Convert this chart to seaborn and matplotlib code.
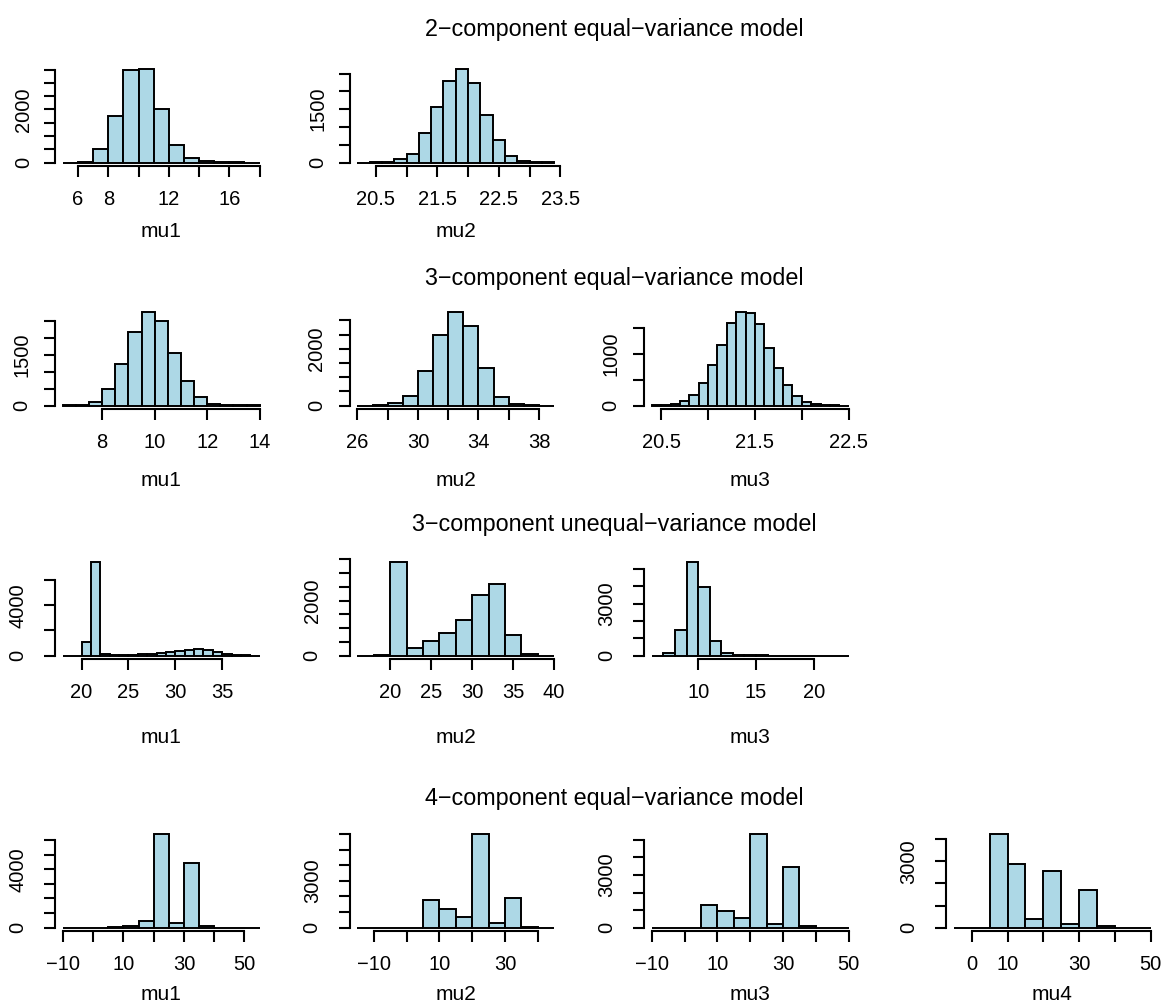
import numpy as np
import pandas as pd
import matplotlib
matplotlib.use("Agg")
import matplotlib.pyplot as plt
import seaborn as sns

# ---- 2-component equal-variance model
eq2_mu1_bins = [5, 18, 1]
eq2_mu1_counts = [5, 40, 510, 1760, 3500, 3510, 2000, 650, 175, 60, 20, 10, 5]
eq2_mu1_xticks = [6, 8, 10, 12, 14, 16, 18]
eq2_mu1_xlabels = ["6", "8", "", "12", "", "16", ""]
eq2_mu1_yticks = [0, 500, 1000, 1500, 2000, 2500, 3000, 3500]
eq2_mu1_ylabeled = [0, 2000]

eq2_mu2_bins = [20.2, 23.4, 0.2]
eq2_mu2_counts = [3, 5, 15, 100, 250, 820, 1550, 2290, 2620, 2245, 1330, 625, 190, 55, 15, 5]
eq2_mu2_xticks = [20.5, 21.0, 21.5, 22.0, 22.5, 23.0, 23.5]
eq2_mu2_xlabels = ["20.5", "", "21.5", "", "22.5", "", "23.5"]
eq2_mu2_yticks = [0, 500, 1000, 1500, 2000, 2500]
eq2_mu2_ylabeled = [0, 1500]

# ---- 3-component equal-variance model
eq3_mu1_bins = [6.5, 14, 0.5]
eq3_mu1_counts = [10, 30, 120, 490, 1230, 2175, 2745, 2490, 1555, 740, 245, 60, 25, 10, 5]
eq3_mu1_xticks = [8, 10, 12, 14]
eq3_mu1_xlabels = ["8", "10", "12", "14"]
eq3_mu1_yticks = [0, 500, 1000, 1500, 2000, 2500]
eq3_mu1_ylabeled = [0, 1500]

eq3_mu2_bins = [26, 39, 1]
eq3_mu2_counts = [5, 15, 80, 355, 1235, 2495, 3280, 2810, 1317, 318, 60, 15, 5]
eq3_mu2_xticks = [26, 28, 30, 32, 34, 36, 38]
eq3_mu2_xlabels = ["26", "", "30", "", "34", "", "38"]
eq3_mu2_yticks = [0, 500, 1000, 1500, 2000, 2500, 3000]
eq3_mu2_ylabeled = [0, 2000]

eq3_mu3_bins = [20.4, 22.5, 0.1]
eq3_mu3_counts = [5, 13, 40, 97, 207, 440, 790, 1165, 1605, 1805, 1792, 1572,
                  1106, 725, 395, 194, 78, 32, 13, 5, 2]
eq3_mu3_xticks = [20.5, 21.0, 21.5, 22.0, 22.5]
eq3_mu3_xlabels = ["20.5", "", "21.5", "", "22.5"]
eq3_mu3_yticks = [0, 500, 1000, 1500]
eq3_mu3_ylabeled = [0, 1000]

# ---- 3-component unequal-variance model
uneq3_mu1_bins = [18, 39, 1]
uneq3_mu1_counts = [5, 10, 1080, 7400, 130, 50, 50, 80, 130, 160, 210, 265,
                    370, 475, 555, 475, 265, 130, 50, 20, 5]
uneq3_mu1_xticks = [20, 25, 30, 35]
uneq3_mu1_xlabels = ["20", "25", "30", "35"]
uneq3_mu1_yticks = [0, 2000, 4000, 6000]
uneq3_mu1_ylabeled = [0, 4000]

uneq3_mu2_bins = [16, 40, 2]
uneq3_mu2_counts = [5, 10, 3390, 280, 545, 835, 1307, 2190, 2590, 760, 60, 5]
uneq3_mu2_xticks = [20, 25, 30, 35, 40]
uneq3_mu2_xlabels = ["20", "25", "30", "35", "40"]
uneq3_mu2_yticks = [0, 500, 1000, 1500, 2000, 2500, 3000, 3500]
uneq3_mu2_ylabeled = [0, 2000]

uneq3_mu3_bins = [6, 23, 1]
uneq3_mu3_counts = [3, 135, 1460, 5385, 3940, 845, 155, 40, 15, 10, 5, 5, 3, 3, 2, 2, 1]
uneq3_mu3_xticks = [10, 15, 20]
uneq3_mu3_xlabels = ["10", "15", "20"]
uneq3_mu3_yticks = [0, 1000, 2000, 3000, 4000, 5000]
uneq3_mu3_ylabeled = [0, 3000]

# ---- 4-component equal-variance model
eq4_mu1_bins = [-10, 55, 5]
eq4_mu1_counts = [0, 0, 3, 70, 90, 480, 6390, 300, 4450, 115, 10, 3, 0]
eq4_mu1_xticks = [-10, 0, 10, 20, 30, 40, 50]
eq4_mu1_xlabels = ["\u221210", "", "10", "", "30", "", "50"]
eq4_mu1_yticks = [0, 1000, 2000, 3000, 4000, 5000, 6000]
eq4_mu1_ylabeled = [0, 4000]

eq4_mu2_bins = [-15, 45, 5]
eq4_mu2_counts = [0, 0, 0, 3, 1795, 1218, 684, 5980, 320, 1923, 65, 3]
eq4_mu2_xticks = [-10, 0, 10, 20, 30, 40]
eq4_mu2_xlabels = ["\u221210", "", "10", "", "30", ""]
eq4_mu2_yticks = [0, 1000, 2000, 3000, 4000, 5000, 6000]
eq4_mu2_ylabeled = [0, 3000]

eq4_mu3_bins = [-10, 50, 5]
eq4_mu3_counts = [0, 0, 3, 1290, 970, 570, 5320, 228, 3458, 114, 5, 0]
eq4_mu3_xticks = [-10, 0, 10, 20, 30, 40, 50]
eq4_mu3_xlabels = ["\u221210", "", "10", "", "30", "", "50"]
eq4_mu3_yticks = [0, 1000, 2000, 3000, 4000, 5000]
eq4_mu3_ylabeled = [0, 3000]

eq4_mu4_bins = [-5, 50, 5]
eq4_mu4_counts = [0, 2, 4223, 2895, 392, 2564, 150, 1704, 60, 5, 2]
eq4_mu4_xticks = [0, 10, 20, 30, 40, 50]
eq4_mu4_xlabels = ["0", "10", "", "30", "", "50"]
eq4_mu4_yticks = [0, 1000, 2000, 3000, 4000]
eq4_mu4_ylabeled = [0, 3000]

row_titles = ["2\u2212component equal\u2212variance model",
              "3\u2212component equal\u2212variance model",
              "3\u2212component unequal\u2212variance model",
              "4\u2212component equal\u2212variance model"]

# layout in pixels (figure 1163 x 1006)
W, H = 1163, 1006
row_top = [65.5, 308.6, 558.6, 830.6]
row_bottom = [166.4, 409.4, 659.4, 931.4]
row_label_y = [231.7, 480, 737.7, 995]
row_title_y = [29.5, 279, 524, 798]
row_ypad = [8, 9, 12, 12]
col_left = [55, 349.5, 644, 946]
panel_w = 212.5

panels = [
    (0, 0, "mu1", eq2_mu1_bins, eq2_mu1_counts, eq2_mu1_xticks, eq2_mu1_xlabels, eq2_mu1_yticks, eq2_mu1_ylabeled),
    (0, 1, "mu2", eq2_mu2_bins, eq2_mu2_counts, eq2_mu2_xticks, eq2_mu2_xlabels, eq2_mu2_yticks, eq2_mu2_ylabeled),
    (1, 0, "mu1", eq3_mu1_bins, eq3_mu1_counts, eq3_mu1_xticks, eq3_mu1_xlabels, eq3_mu1_yticks, eq3_mu1_ylabeled),
    (1, 1, "mu2", eq3_mu2_bins, eq3_mu2_counts, eq3_mu2_xticks, eq3_mu2_xlabels, eq3_mu2_yticks, eq3_mu2_ylabeled),
    (1, 2, "mu3", eq3_mu3_bins, eq3_mu3_counts, eq3_mu3_xticks, eq3_mu3_xlabels, eq3_mu3_yticks, eq3_mu3_ylabeled),
    (2, 0, "mu1", uneq3_mu1_bins, uneq3_mu1_counts, uneq3_mu1_xticks, uneq3_mu1_xlabels, uneq3_mu1_yticks, uneq3_mu1_ylabeled),
    (2, 1, "mu2", uneq3_mu2_bins, uneq3_mu2_counts, uneq3_mu2_xticks, uneq3_mu2_xlabels, uneq3_mu2_yticks, uneq3_mu2_ylabeled),
    (2, 2, "mu3", uneq3_mu3_bins, uneq3_mu3_counts, uneq3_mu3_xticks, uneq3_mu3_xlabels, uneq3_mu3_yticks, uneq3_mu3_ylabeled),
    (3, 0, "mu1", eq4_mu1_bins, eq4_mu1_counts, eq4_mu1_xticks, eq4_mu1_xlabels, eq4_mu1_yticks, eq4_mu1_ylabeled),
    (3, 1, "mu2", eq4_mu2_bins, eq4_mu2_counts, eq4_mu2_xticks, eq4_mu2_xlabels, eq4_mu2_yticks, eq4_mu2_ylabeled),
    (3, 2, "mu3", eq4_mu3_bins, eq4_mu3_counts, eq4_mu3_xticks, eq4_mu3_xlabels, eq4_mu3_yticks, eq4_mu3_ylabeled),
    (3, 3, "mu4", eq4_mu4_bins, eq4_mu4_counts, eq4_mu4_xticks, eq4_mu4_xlabels, eq4_mu4_yticks, eq4_mu4_ylabeled),
]

sns.set_style("ticks")
plt.rcParams['font.family'] = ['Liberation Sans', 'DejaVu Sans']
plt.rcParams['axes.unicode_minus'] = True
plt.rcParams['text.color'] = 'black'
plt.rcParams['axes.labelcolor'] = 'black'
plt.rcParams['xtick.color'] = 'black'
plt.rcParams['ytick.color'] = 'black'

fig = plt.figure(figsize=(W / 100, H / 100), dpi=100)
fig.patch.set_facecolor("white")

for row, col, name, bins, counts, xticks, xlabels, yticks, ylabeled in panels:
    start, stop, width = bins
    edges = np.round(np.arange(start, stop + width / 2, width), 6)
    df = pd.DataFrame({"x": (edges[:-1] + edges[1:]) / 2, "n": counts})
    top, bottom = row_top[row], row_bottom[row]
    ax = fig.add_axes([col_left[col] / W, 1 - bottom / H, panel_w / W, (bottom - top) / H])

    sns.histplot(data=df, x="x", weights="n", bins=edges.tolist(), ax=ax,
                 color="#ADD8E6", edgecolor="black", linewidth=1.4, alpha=1)

    # R-style 4% padding around the data range
    span = stop - start
    ax.set_xlim(start - 0.04 * span, stop + 0.04 * span)
    ymax = max(counts)
    ax.set_ylim(-0.04 * ymax, 1.04 * ymax)

    ax.set_xticks(xticks)
    ax.set_xticklabels(xlabels)
    ax.set_yticks(yticks)
    ax.set_yticklabels([str(v) if v in ylabeled else "" for v in yticks],
                       rotation=90, va="center")
    ax.tick_params(direction="out", length=8, width=1.5, labelsize=14.5,
                   color="black", labelcolor="black")
    ax.tick_params(axis="x", pad=9)
    ax.tick_params(axis="y", pad=row_ypad[row])

    sns.despine(ax=ax)
    ax.spines["left"].set_bounds(yticks[0], yticks[-1])
    ax.spines["bottom"].set_bounds(xticks[0], xticks[-1])
    for s in ("left", "bottom"):
        ax.spines[s].set_linewidth(1.5)
        ax.spines[s].set_color("black")

    ax.set_ylabel("")
    ax.set_xlabel(name, fontsize=15, va="center", color="black")
    ax.xaxis.set_label_coords(0.5, -(row_label_y[row] - bottom) / (bottom - top))
    ax.set_facecolor("white")

for title, ty in zip(row_titles, row_title_y):
    fig.text(614 / W, 1 - ty / H, title, ha="center", va="center",
             fontsize=16.8, color="black")

fig.savefig("out.png", dpi=100)
